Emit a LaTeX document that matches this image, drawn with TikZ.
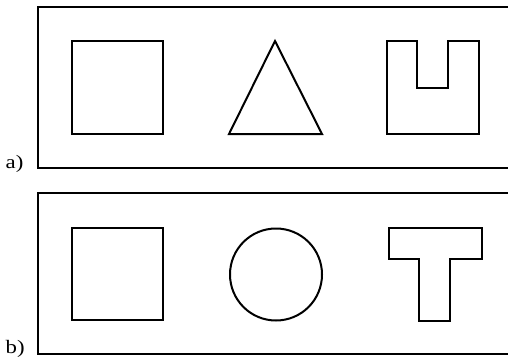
\documentclass[tikz,border=0pt]{standalone}
\usepackage{fontspec}
\setmainfont{Liberation Serif}
\begin{document}
\begin{tikzpicture}[x=1pt,y=-1pt,
  framebox/.style={line width=2.6pt},
  figline/.style={line width=2pt, line join=miter},
  lbl/.style={anchor=base west, inner sep=0pt, font=\fontsize{19}{19}\selectfont, xscale=1.2, transform shape}]
\useasboundingbox (0,0) rectangle (508,356);
% panel a
\draw[framebox] (38,7) rectangle (511,168);
\draw[figline] (72,41) rectangle (163,134);
\draw[figline] (229,134) -- (275,41) -- (322,134) -- cycle;
\draw[figline] (387,41) -- (417,41) -- (417,88) -- (448,88) -- (448,41) -- (479,41) -- (479,134) -- (387,134) -- cycle;
\node[lbl] (la) at (5.5,168) {a)};
% panel b
\draw[framebox] (38,193) rectangle (511,354);
\draw[figline] (72,228) rectangle (163,320);
\draw[figline] (276,274.5) circle (46);
\draw[figline] (389,228) -- (482,228) -- (482,259) -- (450,259) -- (450,321) -- (419,321) -- (419,259) -- (389,259) -- cycle;
\node[lbl] (lb) at (5.5,353) {b)};
\end{tikzpicture}
\end{document}
